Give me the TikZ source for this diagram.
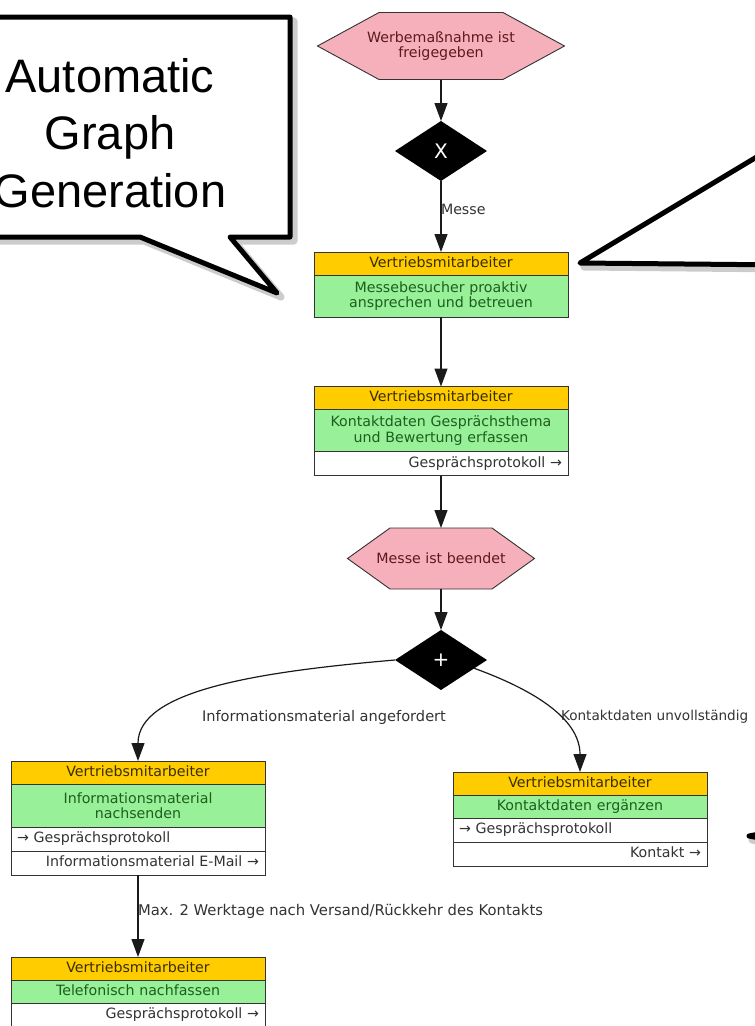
\documentclass[tikz,border=0pt]{standalone}
\usepackage{fontspec}
\setmainfont{DejaVu Sans}
\newfontfamily\callfont{Liberation Sans}
\usetikzlibrary{positioning,shapes.geometric,arrows.meta}

\definecolor{roleyellow}{HTML}{FFCC00}
\definecolor{taskgreen}{HTML}{98F098}
\definecolor{eventpink}{HTML}{F5B0BC}
\definecolor{roletext}{HTML}{3A2E00}
\definecolor{tasktext}{HTML}{1E5E1E}
\definecolor{eventtext}{HTML}{5C1A1A}
\definecolor{doctext}{HTML}{333333}
\definecolor{boxline}{HTML}{333333}
\definecolor{edgeline}{HTML}{1A1A1A}

\begin{document}
\begin{tikzpicture}[x=1pt, y=-1pt, node distance=0pt,
    every node/.style={font=\fontsize{14.2}{15.5}\selectfont, inner sep=0pt, outer sep=0pt},
    row/.style={draw=boxline, line width=0.9pt, minimum width=254pt, text width=242pt, text height=10pt, text depth=3pt},
    role/.style={row, fill=roleyellow, text=roletext, align=center, minimum height=23pt},
    task/.style={row, fill=taskgreen, text=tasktext, align=center, minimum height=23pt},
    tasktwo/.style={task, text height=, text depth=, minimum height=42pt},
    docout/.style={row, fill=white, text=doctext, align=right, minimum height=24pt},
    docin/.style={row, fill=white, text=doctext, align=left, minimum height=24pt},
    hexagon/.style={draw=boxline, line width=0.9pt, fill=eventpink},
    event/.style={text=eventtext, align=center},
    gate/.style={diamond, aspect=1.5, fill=black, text=white, minimum width=92pt, minimum height=60pt, font=\fontsize{20}{20}\selectfont},
    flow/.style={draw=edgeline, line width=1.2pt, -{Triangle[length=18pt,width=13pt]}},
    lbl/.style={text=doctext},
    callout/.style={draw=black, line width=5pt, fill=white, line join=round},
    shade/.style={draw=black, line width=7pt, opacity=.2, line join=round}]

    \useasboundingbox (0,0) rectangle (755,1026);

    % Callouts
    \draw[shade] (-90,21) -- (294,21) -- (294,241) -- (234,241) -- (281,297) -- (144,241) -- (-90,241) -- cycle;
    \draw[callout] (-90,17) -- (290,17) -- (290,237) -- (230,237) -- (277,293) -- (140,237) -- (-90,237) -- cycle;
    \node[font=\callfont\fontsize{47}{57.5}\selectfont, align=center] (auto) at (110,133) {Automatic\\Graph\\Generation};

    \draw[shade] (790,141) -- (584,267) -- (790,269);
    \draw[callout] (790,137) -- (580,263) -- (790,265);
    \draw[shade] (790,832) -- (752,840) -- (790,848);
    \draw[callout] (790,828) -- (749,836) -- (790,844);

    % Top column
    \draw[hexagon] (317.5,46) -- (379,12.5) -- (503,12.5) -- (564.5,46) -- (503,79.5) -- (379,79.5) -- cycle;
    \node[event, minimum width=247pt, minimum height=67pt] (ev1) at (441,46) {Werbemaßnahme ist\\freigegeben};
    \node[gate] (gx) at (441,151) {X};

    \node[role] (r1) at (441,263.5) {Vertriebsmitarbeiter};
    \node[tasktwo, below=of r1] (t1) {Messebesucher proaktiv\\ansprechen und betreuen};

    \node[role] (r2) at (441,398) {Vertriebsmitarbeiter};
    \node[tasktwo, below=of r2] (t2) {Kontaktdaten Gesprächsthema\\und Bewertung erfassen};
    \node[docout, below=of t2] (d2) {Gesprächsprotokoll →};

    \draw[hexagon] (347.5,558.5) -- (390,528) -- (492,528) -- (534.5,558.5) -- (492,589) -- (390,589) -- cycle;
    \node[event, minimum width=187pt, minimum height=61pt] (ev2) at (441,558.5) {Messe ist beendet};
    \node[gate] (gplus) at (441,660) {+};

    % Left branch
    \node[role] (r3) at (138,772.5) {Vertriebsmitarbeiter};
    \node[tasktwo, minimum height=43pt, below=of r3] (t3) {Informationsmaterial\\nachsenden};
    \node[docin, below=of t3] (d3a) {→ Gesprächsprotokoll};
    \node[docout, below=of d3a] (d3b) {Informationsmaterial E-Mail →};

    \node[role] (r4) at (138,968.5) {Vertriebsmitarbeiter};
    \node[task, below=of r4] (t4) {Telefonisch nachfassen};
    \node[docout, below=of t4] (d4) {Gesprächsprotokoll →};

    % Right branch
    \node[role] (r5) at (580,783.5) {Vertriebsmitarbeiter};
    \node[task, below=of r5] (t5) {Kontaktdaten ergänzen};
    \node[docin, below=of t5] (d5a) {→ Gesprächsprotokoll};
    \node[docout, below=of d5a] (d5b) {Kontakt →};

    % Labels
    \node[lbl, anchor=west, font=\fontsize{14.6}{16}\selectfont] (linfo) at (202,717) {Informationsmaterial angefordert};
    \node[lbl, anchor=west, font=\fontsize{13.6}{15}\selectfont] (lkontakt) at (561,717) {Kontaktdaten unvollständig};

    % Edges
    \draw[flow] (ev1) -- (gx);
    \draw[flow] (gx) -- node[lbl, anchor=west, pos=.4] (lmesse) {Messe} (r1);
    \draw[flow] (t1) -- (r2);
    \draw[flow] (d2) -- (ev2);
    \draw[flow] (ev2) -- (gplus);
    \draw[flow] (gplus.west) .. controls +(-140,12) and +(0,-70) .. (r3.north);
    \draw[flow] (gplus.-14) .. controls +(55,20) and +(0,-55) .. (r5.north);
    \draw[flow] (d3b) -- node[lbl, anchor=west, pos=.45, font=\fontsize{14.8}{16}\selectfont] (lmax) {Max. 2 Werktage nach Versand/Rückkehr des Kontakts} (r4);

\end{tikzpicture}
\end{document}
